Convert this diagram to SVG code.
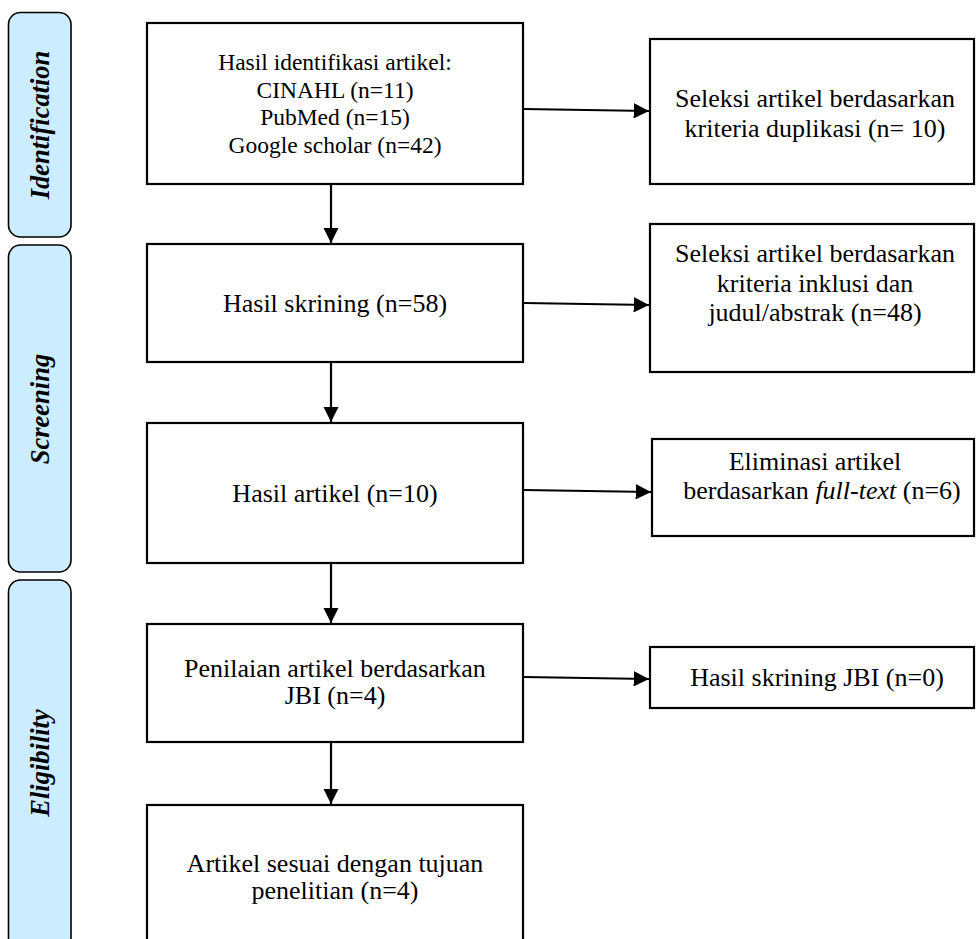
<svg xmlns="http://www.w3.org/2000/svg" width="976" height="939" viewBox="0 0 976 939">
<style>
.lane{fill:#CCECFF;stroke:#000;stroke-width:1.6}
.box{fill:#fff;stroke:#000;stroke-width:2.2}
.t{font-family:"Liberation Serif","Times New Roman",serif;font-size:26px;fill:#000;text-anchor:middle}
.t1{font-size:23.5px}
.lt{font-family:"Liberation Serif","Times New Roman",serif;font-size:26.5px;font-weight:bold;font-style:italic;fill:#000;text-anchor:middle}
.c{stroke:#000;stroke-width:2.2;fill:none;marker-end:url(#ah)}
</style>
<defs>
<marker id="ah" markerWidth="7" markerHeight="7" refX="7" refY="3.5" orient="auto" markerUnits="strokeWidth">
<path d="M0,0 L7,3.5 L0,7 Z" fill="#000"/>
</marker>
</defs>
<rect width="976" height="939" fill="#fff"/>
<g id="lane-identification">
<rect class="lane" x="8.5" y="12.5" width="62.5" height="224.5" rx="12"/>
<text class="lt" transform="translate(49,125) rotate(-90)">Identification</text>
</g>
<g id="lane-screening">
<rect class="lane" x="8.5" y="245" width="62.5" height="327" rx="12"/>
<text class="lt" transform="translate(49,409) rotate(-90)">Screening</text>
</g>
<g id="lane-eligibility">
<rect class="lane" x="8.5" y="580" width="62.5" height="370" rx="12"/>
<text class="lt" transform="translate(49,763) rotate(-90)">Eligibility</text>
</g>
<g id="n1">
<rect class="box" x="147" y="23" width="376" height="161"/>
<text class="t t1" x="335" y="70">Hasil identifikasi artikel:</text>
<text class="t t1" x="335" y="98">CINAHL (n=11)</text>
<text class="t t1" x="335" y="125">PubMed (n=15)</text>
<text class="t t1" x="335" y="153">Google scholar (n=42)</text>
</g>
<g id="n1r">
<rect class="box" x="650" y="39" width="324" height="145"/>
<text class="t" x="815" y="107">Seleksi artikel berdasarkan</text>
<text class="t" x="815" y="137">kriteria duplikasi (n= 10)</text>
</g>
<g id="n2">
<rect class="box" x="147" y="244" width="376" height="118"/>
<text class="t" x="335" y="312">Hasil skrining (n=58)</text>
</g>
<g id="n2r">
<rect class="box" x="650" y="224" width="324" height="148"/>
<text class="t" x="815" y="262">Seleksi artikel berdasarkan</text>
<text class="t" x="815" y="292">kriteria inklusi dan</text>
<text class="t" x="815" y="321">judul/abstrak (n=48)</text>
</g>
<g id="n3">
<rect class="box" x="147" y="423" width="376" height="140"/>
<text class="t" x="335" y="502">Hasil artikel (n=10)</text>
</g>
<g id="n3r">
<rect class="box" x="652" y="439" width="322" height="97"/>
<text class="t" x="815" y="470">Eliminasi artikel</text>
<text class="t" x="822" y="499">berdasarkan <tspan font-style="italic">full-text</tspan> (n=6)</text>
</g>
<g id="n4">
<rect class="box" x="147" y="624" width="376" height="118"/>
<text class="t" x="335" y="677">Penilaian artikel berdasarkan</text>
<text class="t" x="335" y="704">JBI (n=4)</text>
</g>
<g id="n4r">
<rect class="box" x="650" y="647" width="324" height="61"/>
<text class="t" x="817" y="686">Hasil skrining JBI (n=0)</text>
</g>
<g id="n5">
<rect class="box" x="147" y="805" width="376" height="160"/>
<text class="t" x="335" y="872">Artikel sesuai dengan tujuan</text>
<text class="t" x="335" y="899">penelitian (n=4)</text>
</g>
<g id="connectors">
<path class="c" d="M331,184 V243"/>
<path class="c" d="M331,362 V422"/>
<path class="c" d="M331,563 V623"/>
<path class="c" d="M331,742 V804"/>
<path class="c" d="M524,109 L649,111"/>
<path class="c" d="M524,303 L649,305"/>
<path class="c" d="M524,490 L651,492"/>
<path class="c" d="M524,677 L649,679"/>
</g>
</svg>
